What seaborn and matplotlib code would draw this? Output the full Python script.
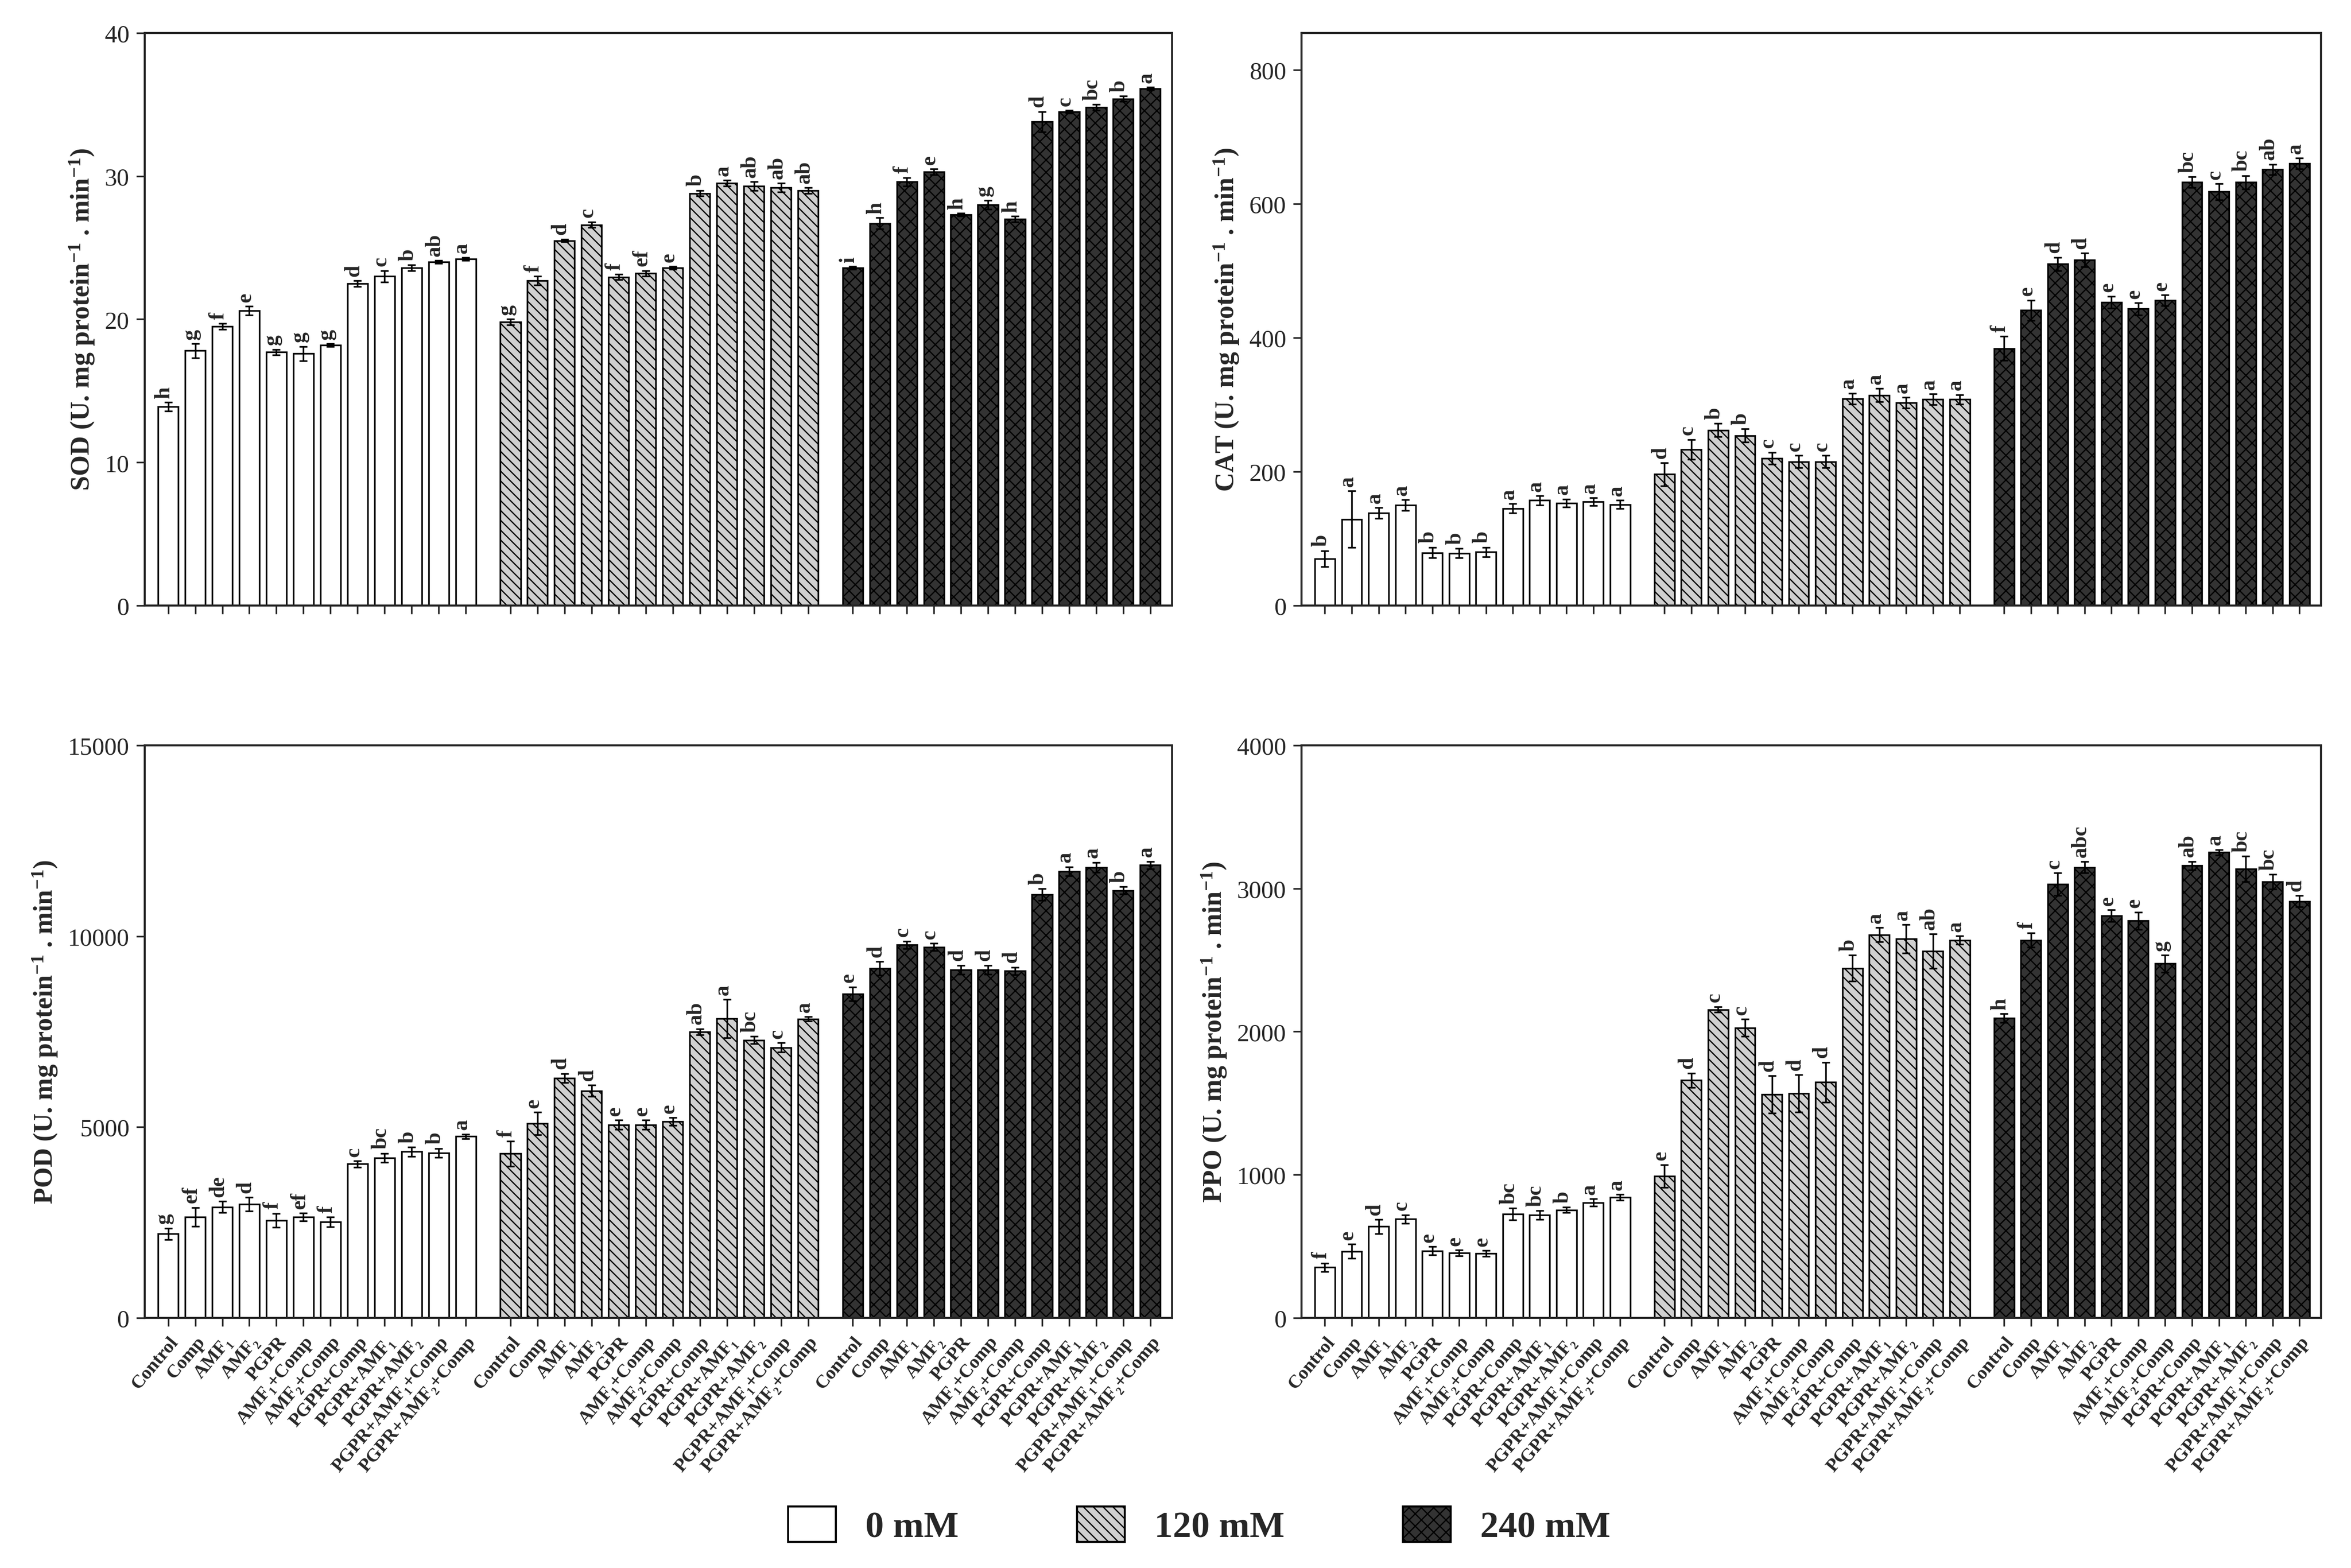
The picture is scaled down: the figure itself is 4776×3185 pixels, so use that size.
import numpy as np
import pandas as pd
import matplotlib
matplotlib.use("Agg")
import matplotlib.pyplot as plt
import seaborn as sns
from matplotlib.patches import Patch

# treatments (same order in each salt group)
treatments = ["Control", "Comp", "AMF₁", "AMF₂", "PGPR", "AMF₁+Comp", "AMF₂+Comp",
              "PGPR+Comp", "PGPR+AMF₁", "PGPR+AMF₂", "PGPR+AMF₁+Comp", "PGPR+AMF₂+Comp"]
salts = ["0 mM", "120 mM", "240 mM"]

# SOD
sod_mean = [13.9, 17.8, 19.5, 20.6, 17.7, 17.6, 18.2, 22.5, 23.0, 23.6, 24.0, 24.2,
            19.8, 22.7, 25.5, 26.6, 22.95, 23.2, 23.6, 28.8, 29.5, 29.3, 29.2, 29.0,
            23.6, 26.7, 29.6, 30.3, 27.3, 28.0, 27.0, 33.8, 34.5, 34.8, 35.4, 36.1]
sod_err = [0.3, 0.5, 0.2, 0.3, 0.2, 0.5, 0.1, 0.2, 0.4, 0.2, 0.1, 0.1,
           0.2, 0.3, 0.1, 0.2, 0.2, 0.2, 0.1, 0.2, 0.2, 0.3, 0.3, 0.2,
           0.1, 0.4, 0.3, 0.2, 0.1, 0.3, 0.2, 0.7, 0.1, 0.2, 0.2, 0.1]
sod_let = ["h", "g", "f", "e", "g", "g", "g", "d", "c", "b", "ab", "a",
           "g", "f", "d", "c", "f", "ef", "e", "b", "a", "ab", "ab", "ab",
           "i", "h", "f", "e", "h", "g", "h", "d", "c", "bc", "b", "a"]

# CAT
cat_mean = [70, 129, 138, 150, 79, 78, 80, 145, 157, 153, 155, 151,
            196, 233, 262, 254, 220, 215, 215, 309, 314, 303, 308, 308,
            384, 441, 510, 516, 453, 443, 456, 632, 618, 632, 651, 660]
cat_err = [12, 42, 8, 8, 8, 7, 7, 7, 7, 6, 6, 6,
           17, 15, 10, 10, 9, 9, 9, 8, 10, 8, 8, 7,
           18, 15, 10, 10, 9, 9, 8, 8, 12, 10, 8, 8]
cat_let = ["b", "a", "a", "a", "b", "b", "b", "a", "a", "a", "a", "a",
           "d", "c", "b", "b", "c", "c", "c", "a", "a", "a", "a", "a",
           "f", "e", "d", "d", "e", "e", "e", "bc", "c", "bc", "ab", "a"]

# POD
pod_mean = [2199, 2643, 2903, 2978, 2556, 2643, 2513, 4029, 4191, 4354, 4321, 4755,
            4300, 5090, 6282, 5946, 5058, 5058, 5145, 7495, 7841, 7278, 7083, 7830,
            8491, 9152, 9769, 9715, 9119, 9119, 9087, 11090, 11697, 11805, 11199, 11860]
pod_err = [150, 250, 150, 180, 180, 100, 130, 80, 120, 120, 120, 60,
           330, 300, 120, 150, 120, 120, 100, 80, 500, 100, 120, 60,
           180, 180, 100, 100, 120, 120, 100, 150, 120, 130, 100, 100]
pod_let = ["g", "ef", "de", "d", "f", "ef", "f", "c", "bc", "b", "b", "a",
           "f", "e", "d", "d", "e", "e", "e", "ab", "a", "bc", "c", "a",
           "e", "d", "c", "c", "d", "d", "d", "b", "a", "a", "b", "a"]

# PPO
ppo_mean = [352, 465, 638, 690, 468, 453, 450, 725, 719, 754, 806, 843,
            990, 1660, 2154, 2027, 1562, 1568, 1646, 2443, 2677, 2648, 2561, 2639,
            2094, 2639, 3029, 3148, 2810, 2775, 2475, 3159, 3252, 3136, 3047, 2911]
ppo_err = [30, 50, 50, 30, 30, 20, 20, 40, 30, 20, 25, 20,
           80, 50, 20, 60, 130, 130, 140, 90, 50, 100, 120, 30,
           30, 50, 80, 40, 40, 60, 60, 30, 20, 90, 50, 40]
ppo_let = ["f", "e", "d", "c", "e", "e", "e", "bc", "bc", "b", "a", "a",
           "e", "d", "c", "c", "d", "d", "d", "b", "a", "a", "ab", "a",
           "h", "f", "c", "abc", "e", "e", "g", "ab", "a", "bc", "bc", "d"]

sns.set_style("ticks")
plt.rcParams["font.family"] = ["Liberation Serif", "DejaVu Serif"]
plt.rcParams["mathtext.fontset"] = "custom"
plt.rcParams["mathtext.rm"] = "Liberation Serif:bold"
plt.rcParams["mathtext.default"] = "rm"
plt.rcParams["hatch.linewidth"] = 0.6

group_gap = 12.65
pos = [g * group_gap + i for g in range(3) for i in range(12)]
salt_col = [s for s in salts for _ in treatments]

faces = {"0 mM": "white", "120 mM": "#d0d0d0", "240 mM": "#333333"}
hatches = {"0 mM": "", "120 mM": "\\\\\\\\\\", "240 mM": "xxxx"}

fig = plt.figure(figsize=(15.923, 10.62), dpi=300)
boxes = [(0.0615, 0.6136, 0.4369, 0.3651), (0.5535, 0.6136, 0.4335, 0.3651),
         (0.0615, 0.1595, 0.4369, 0.3650), (0.5535, 0.1595, 0.4335, 0.3650)]

panels = [("SOD", sod_mean, sod_err, sod_let, 40, [0, 10, 20, 30, 40]),
          ("CAT", cat_mean, cat_err, cat_let, 855, [0, 200, 400, 600, 800]),
          ("POD", pod_mean, pod_err, pod_let, 15000, [0, 5000, 10000, 15000]),
          ("PPO", ppo_mean, ppo_err, ppo_let, 4000, [0, 1000, 2000, 3000, 4000])]

for k, (name, mean, err, let, ymax, yt) in enumerate(panels):
    ax = fig.add_axes(boxes[k])
    df = pd.DataFrame({"pos": pos, "val": mean, "salt": salt_col})
    sns.barplot(data=df, x="pos", y="val", hue="salt", native_scale=True, dodge=False,
                width=0.75, errorbar=None, palette=faces, edgecolor="black",
                linewidth=0.8, legend=False, ax=ax)
    for p in ax.patches:
        c = p.get_x() + p.get_width() / 2
        s = salts[int(c // group_gap)]
        p.set_facecolor(faces[s])
        p.set_hatch(hatches[s])
        p.set_edgecolor("black")
    ax.errorbar(pos, mean, yerr=err, fmt="none", ecolor="black", elinewidth=0.8,
                capsize=2, capthick=0.8)
    # significance letters, nudged left so the x-height glyphs sit over the bar
    for x, m, e, t in zip(pos, mean, err, let):
        ax.text(x - 0.15, m + e + ymax * 0.008, t, rotation=90, ha="center",
                va="bottom", fontsize=10.5, fontweight="bold")
    ax.set_xlim(-0.87, pos[-1] + 0.8)
    ax.set_ylim(0, ymax)
    ax.set_yticks(yt)
    ax.set_yticklabels([str(v) for v in yt], fontsize=12)
    ax.set_xticks(pos)
    if k >= 2:
        ax.set_xticklabels(treatments * 3, rotation=50, ha="right",
                           rotation_mode="anchor", fontsize=9.2,
                           fontweight="bold")
    else:
        ax.set_xticklabels([])
    ax.tick_params(length=4, width=0.8)
    ax.set_xlabel("")
    ax.set_ylabel(name + r" (U. mg protein$^{-1}$ . min$^{-1}$)", fontsize=13,
                  fontweight="bold")
    for sp in ax.spines.values():
        sp.set_visible(True)
        sp.set_linewidth(1.0)

handles = [Patch(facecolor=faces[s], edgecolor="black", hatch=hatches[s], linewidth=1.0)
           for s in salts]
fig.legend(handles, salts, loc="center", bbox_to_anchor=(0.51, 0.027), ncol=3,
           frameon=False, handlelength=1.3, handleheight=1.1, columnspacing=3.2,
           prop={"family": "Liberation Serif", "weight": "bold", "size": 18})

fig.savefig("out.png", dpi=300)
